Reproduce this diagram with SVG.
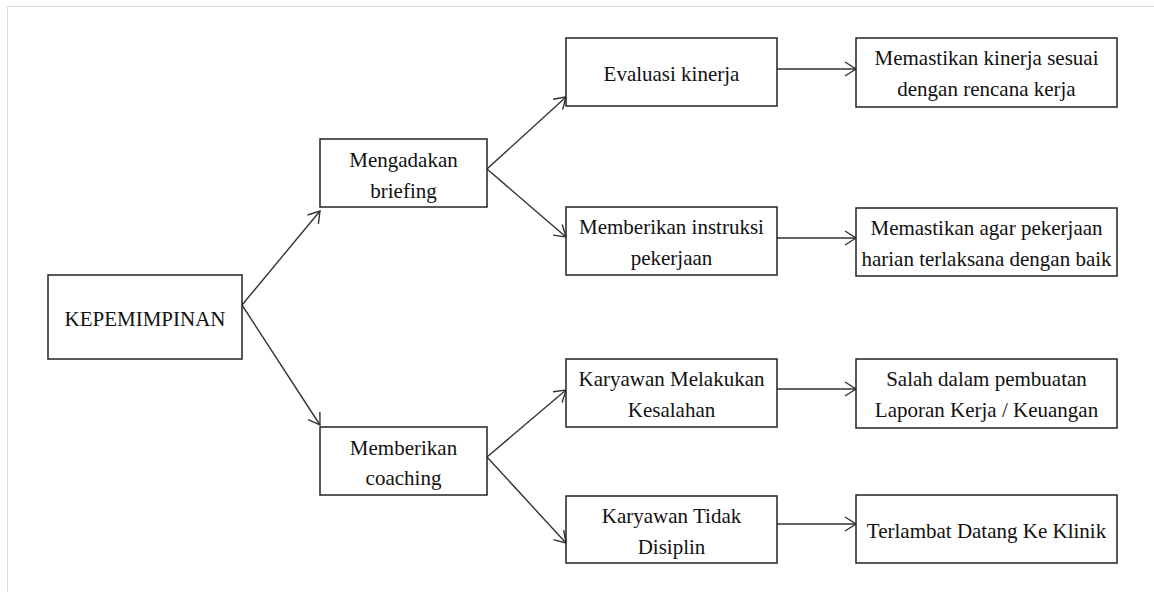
<svg xmlns="http://www.w3.org/2000/svg" width="1154" height="592" viewBox="0 0 1154 592">
<style>
.box{fill:#fff;stroke:#222;stroke-width:1.5}
.t{font-family:"Liberation Serif","Times New Roman",serif;font-size:21px;fill:#111;text-anchor:middle}
.c{stroke:#333;stroke-width:1.4;fill:none;marker-end:url(#ah)}
</style>
<defs>
<marker id="ah" markerUnits="userSpaceOnUse" markerWidth="14" markerHeight="16" refX="11" refY="7" orient="auto" viewBox="-1 -1 14 16">
<path d="M0,0 L11,7 L0,14" fill="none" stroke="#333" stroke-width="1.4"/>
</marker>
</defs>
<rect width="1154" height="592" fill="#fff"/>
<path d="M7.5,592 V6.5 H1154" fill="none" stroke="#ddd" stroke-width="1"/>
<g id="connectors">
<line class="c" x1="242" y1="305" x2="320" y2="211"/>
<line class="c" x1="242" y1="305" x2="320" y2="425"/>
<line class="c" x1="487" y1="169" x2="566" y2="97"/>
<line class="c" x1="487" y1="169" x2="566" y2="237"/>
<line class="c" x1="487" y1="457" x2="566" y2="390"/>
<line class="c" x1="487" y1="457" x2="566" y2="543"/>
<line class="c" x1="777" y1="69" x2="856" y2="69"/>
<line class="c" x1="777" y1="238" x2="856" y2="238"/>
<line class="c" x1="777" y1="389" x2="856" y2="389"/>
<line class="c" x1="777" y1="524" x2="856" y2="524"/>
</g>
<g id="kepemimpinan">
<rect class="box" x="48" y="275" width="194" height="84"/>
<text class="t" x="145" y="326">KEPEMIMPINAN</text>
</g>
<g id="mengadakan-briefing">
<rect class="box" x="320" y="139" width="167" height="68"/>
<text class="t" x="403.5" y="166.5">Mengadakan</text>
<text class="t" x="403.5" y="197.5">briefing</text>
</g>
<g id="memberikan-coaching">
<rect class="box" x="320" y="427" width="167" height="68"/>
<text class="t" x="403.5" y="454.5">Memberikan</text>
<text class="t" x="403.5" y="485">coaching</text>
</g>
<g id="evaluasi-kinerja">
<rect class="box" x="566" y="38" width="211" height="68"/>
<text class="t" x="671.5" y="80.5">Evaluasi kinerja</text>
</g>
<g id="memberikan-instruksi">
<rect class="box" x="566" y="207" width="211" height="68"/>
<text class="t" x="671.5" y="233.5">Memberikan instruksi</text>
<text class="t" x="671.5" y="265">pekerjaan</text>
</g>
<g id="karyawan-melakukan">
<rect class="box" x="566" y="359" width="211" height="68"/>
<text class="t" x="671.5" y="386">Karyawan Melakukan</text>
<text class="t" x="671.5" y="416.5">Kesalahan</text>
</g>
<g id="karyawan-tidak">
<rect class="box" x="566" y="496" width="211" height="67"/>
<text class="t" x="671.5" y="522.5">Karyawan Tidak</text>
<text class="t" x="671.5" y="553.5">Disiplin</text>
</g>
<g id="memastikan-kinerja">
<rect class="box" x="856" y="38" width="261" height="69"/>
<text class="t" x="986.5" y="65">Memastikan kinerja sesuai</text>
<text class="t" x="986.5" y="96">dengan rencana kerja</text>
</g>
<g id="memastikan-agar">
<rect class="box" x="856" y="208" width="261" height="68"/>
<text class="t" x="986.5" y="234.5">Memastikan agar pekerjaan</text>
<text class="t" x="986.5" y="265.5">harian terlaksana dengan baik</text>
</g>
<g id="salah-dalam">
<rect class="box" x="856" y="359" width="261" height="69"/>
<text class="t" x="986.5" y="386">Salah dalam pembuatan</text>
<text class="t" x="986.5" y="417">Laporan Kerja / Keuangan</text>
</g>
<g id="terlambat">
<rect class="box" x="856" y="495" width="261" height="68"/>
<text class="t" x="986.5" y="537.5">Terlambat Datang Ke Klinik</text>
</g>
</svg>
